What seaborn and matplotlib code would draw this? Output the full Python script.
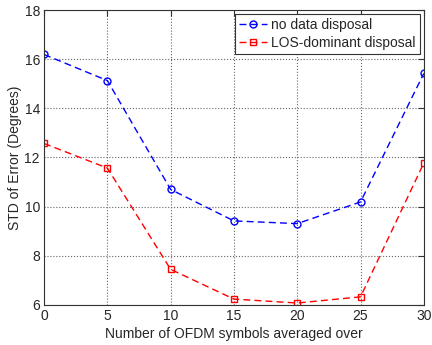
import matplotlib
matplotlib.use("Agg")
import matplotlib.pyplot as plt
import seaborn as sns
import pandas as pd

symbols = [0, 5, 10, 15, 20, 25, 30]
no_disposal = [16.19, 15.13, 10.70, 9.42, 9.31, 10.19, 15.42]
los_disposal = [12.57, 11.57, 7.45, 6.24, 6.08, 6.33, 11.77]
series_names = ["no data disposal", "LOS-dominant disposal"]

sns.set_style("white")
plt.rcParams['font.family'] = ['Liberation Sans', 'DejaVu Sans']

df = pd.DataFrame({
    "x": symbols * 2,
    "y": no_disposal + los_disposal,
    "series": [series_names[0]] * len(symbols) + [series_names[1]] * len(symbols),
})

fig = plt.figure(figsize=(4.32, 3.45), dpi=100)
ax = fig.add_axes([0.102, 0.116, 0.879, 0.855])

sns.lineplot(data=df, x="x", y="y", hue="series", style="series",
             palette={series_names[0]: "#0000ff", series_names[1]: "#ff0000"},
             markers={series_names[0]: "o", series_names[1]: "s"},
             dashes={series_names[0]: (5, 3), series_names[1]: (5, 3)},
             markerfacecolor="none", markersize=5, markeredgewidth=1.0,
             linewidth=1.0, ax=ax, legend=True)

for line in ax.get_lines():
    line.set_markerfacecolor("none")
    line.set_markeredgecolor(line.get_color())

ax.set_xlim(0, 30)
ax.set_ylim(6, 18)
ax.set_xticks(symbols)
ax.set_yticks([6, 8, 10, 12, 14, 16, 18])
ax.grid(True, linestyle=":", color="#666666", linewidth=0.8)
ax.tick_params(direction="in", length=4, labelsize=10, top=True, right=True,
               color="#333333", pad=3)
for s in ax.spines.values():
    s.set_color("#333333")
    s.set_linewidth(0.8)
ax.set_xlabel("Number of OFDM symbols averaged over", fontsize=10, labelpad=3)
ax.set_ylabel("STD of Error (Degrees)", fontsize=10, labelpad=2)

leg = ax.legend(loc="upper right", fontsize=10, frameon=True, fancybox=False,
                edgecolor="#333333", framealpha=1, borderpad=0.3,
                labelspacing=0.25,
                handlelength=2.0, handletextpad=0.3, borderaxespad=0.3)
for h in leg.get_lines():
    h.set_markerfacecolor("none")
leg.get_frame().set_linewidth(0.8)

fig.savefig("out.png", dpi=100)
